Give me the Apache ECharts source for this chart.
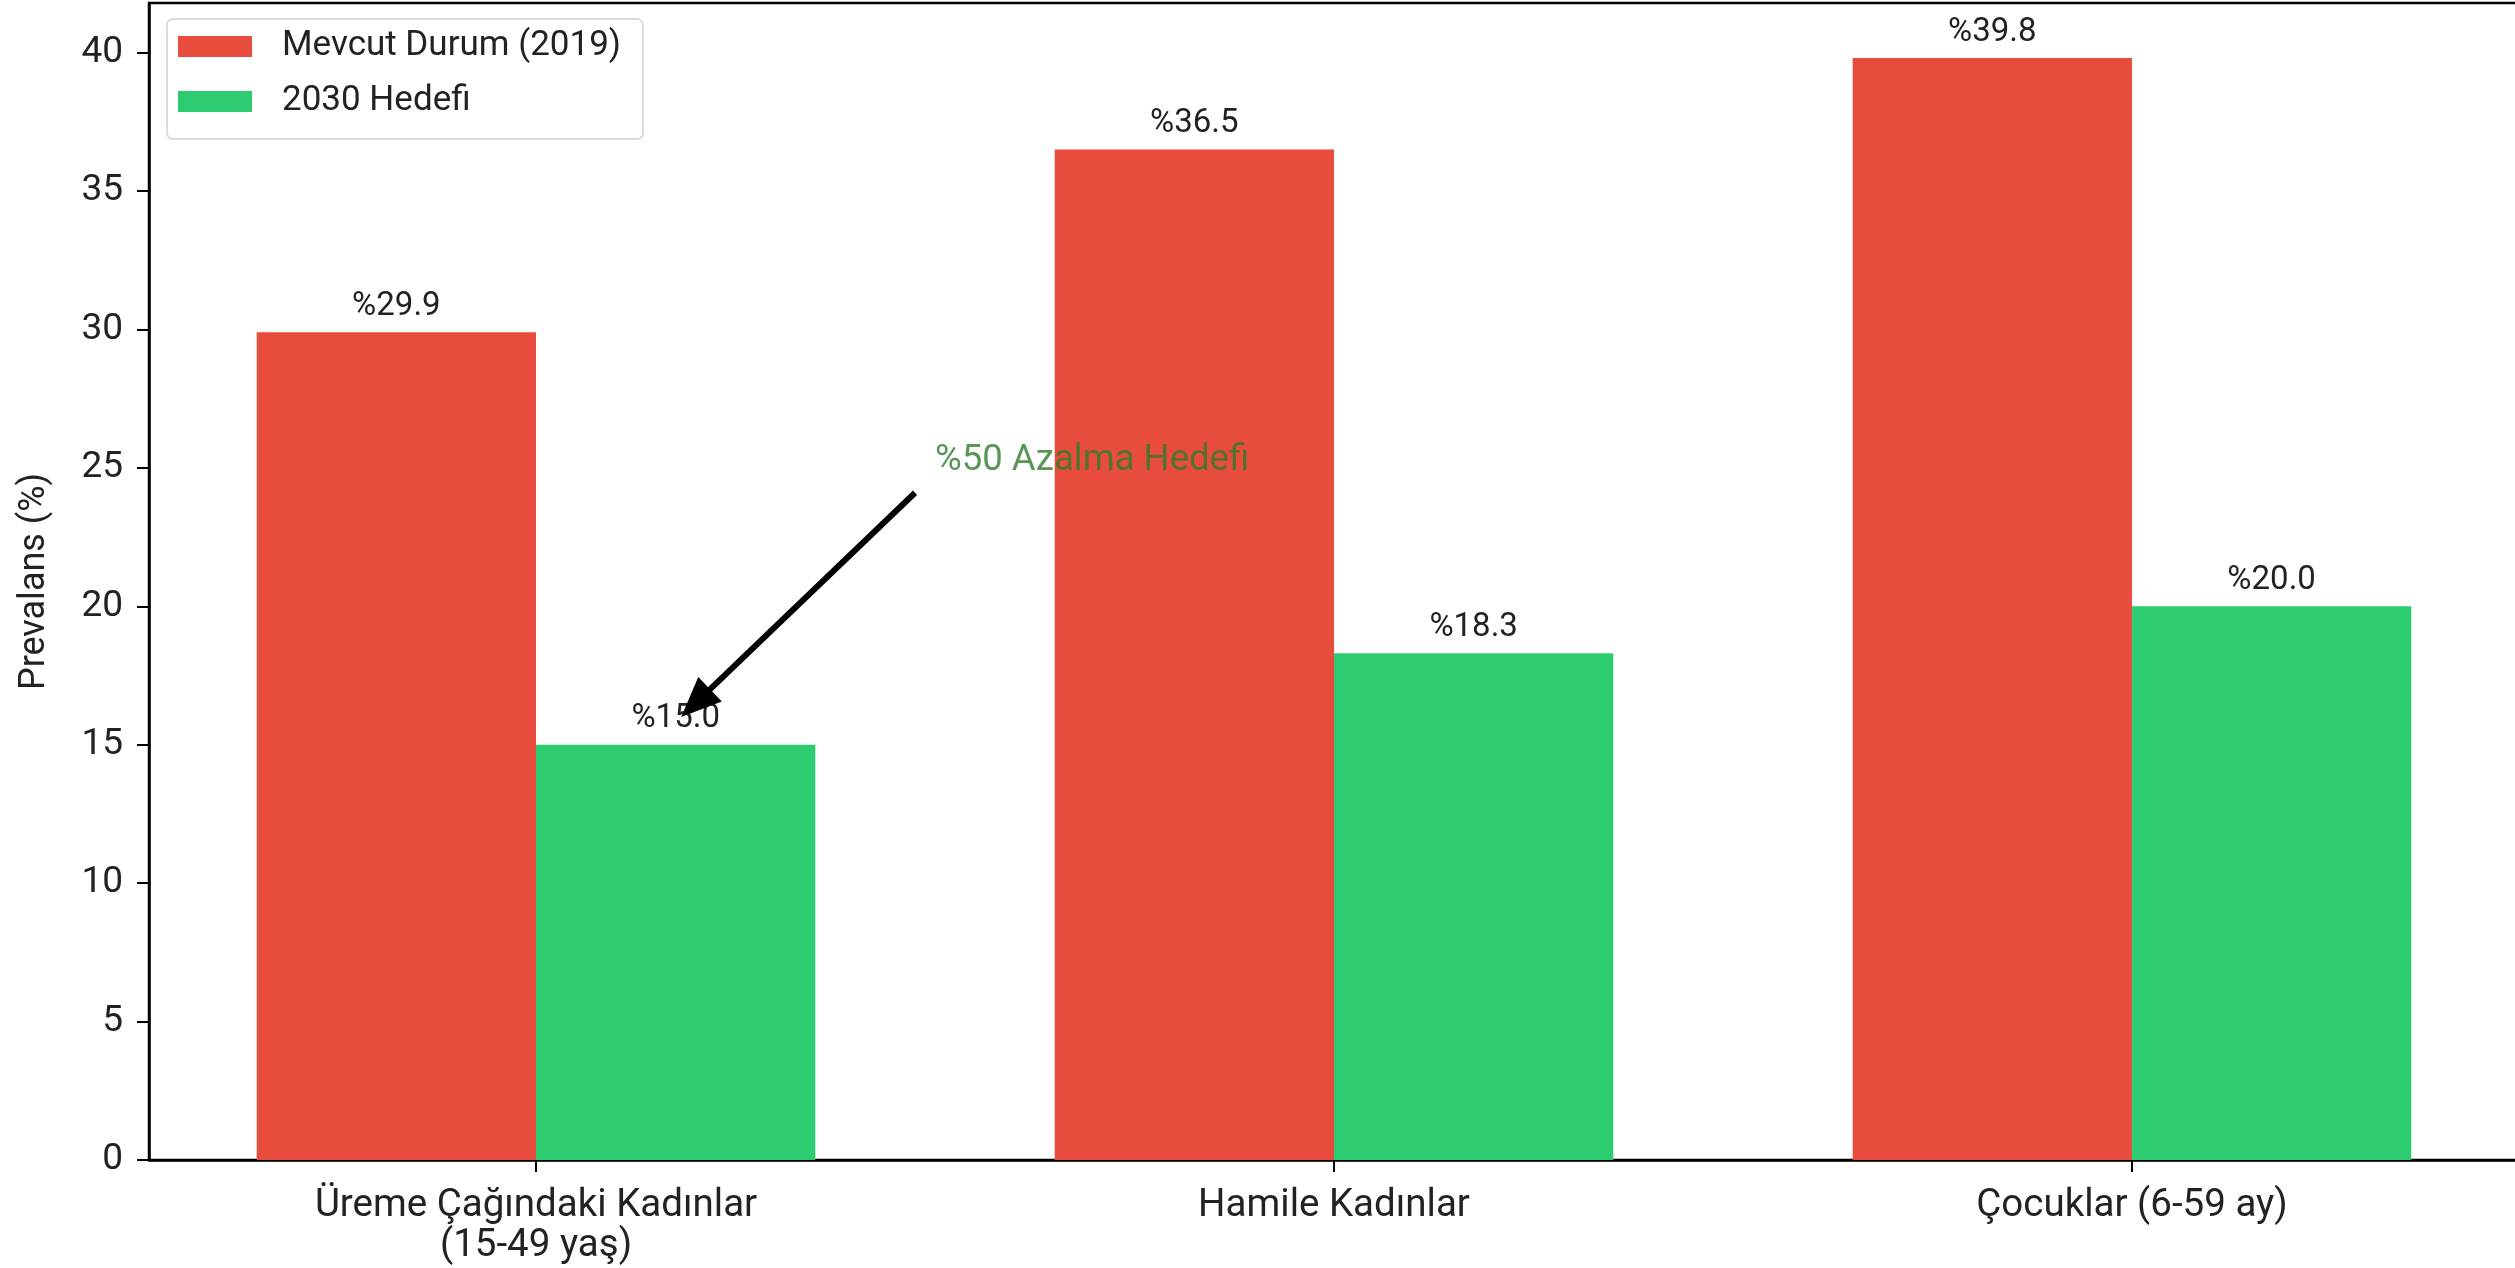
<!DOCTYPE html>
<html>
<head>
<meta charset="utf-8">
<title>Anemi Prevalansı: Mevcut Durum ve 2030 Hedefi</title>
<script src="https://cdn.jsdelivr.net/npm/echarts@6/dist/echarts.min.js"></script>
<style>
  html, body { margin: 0; padding: 0; background: #ffffff; }
  #chart { width: 2515px; height: 1268px; }
</style>
</head>
<body>
<div id="chart"></div>
<script>
// Groups on the horizontal axis
const categories = [
  'Üreme Çağındaki Kadınlar\n(15-49 yaş)',
  'Hamile Kadınlar',
  'Çocuklar (6-59 ay)'
];
const categoryPositions = [0, 1, 2];

// Prevalence values (%)
const seriesNames = ['Mevcut Durum (2019)', '2030 Hedefi'];
const current2019 = [29.9, 36.5, 39.8];
const target2030 = [15.0, 18.3, 20.0];

// Y axis ticks
const yTicks = [0, 5, 10, 15, 20, 25, 30, 35, 40];

// Annotation: text anchor and arrow (tail -> head) in data units
const noteText = '%50 Azalma Hedefi';
const noteAnchor = [0.5, 24.6];
const arrowTail = [0.475, 24.1];
const arrowHead = [0.2, 16.5];

const RED = '#e74c3c';
const GREEN = '#2ecc71';
const INK = '#222222';
const FONT = 'Roboto, "DejaVu Sans", sans-serif';

// Axis extent: bar group width plus a 5% margin on each side
const barSpan = 0.35;
const xMin = -(barSpan + 0.135);
const xMax = 2 + barSpan + 0.135;
const yMax = 39.8 * 1.05;

const chart = echarts.init(document.getElementById('chart'), null, { renderer: 'canvas' });

// Plot area runs slightly past the right edge of the canvas
const gridLeft = 149;
const gridWidth = 2370;
const unitPx = gridWidth / (xMax - xMin);
const barPx = barSpan * unitPx;

const valueLabel = {
  show: true,
  position: 'top',
  distance: 9,
  color: INK,
  fontFamily: FONT,
  fontSize: 33,
  formatter: p => '%' + p.value[1].toFixed(1)
};

chart.setOption({
  animation: false,
  backgroundColor: '#ffffff',
  textStyle: { fontFamily: FONT },
  grid: {
    left: gridLeft, width: gridWidth, top: 3, bottom: 108,
    outerBoundsMode: 'none',
    containLabel: false,
    show: true, borderColor: '#000', borderWidth: 2.5, backgroundColor: 'transparent'
  },
  legend: {
    orient: 'vertical',
    left: 167, top: 19,
    padding: [10, 22, 20, 11],
    itemGap: 20,
    itemWidth: 74, itemHeight: 21,
    icon: 'rect',
    backgroundColor: '#ffffff',
    borderColor: '#d0d0d0',
    borderWidth: 1.5,
    borderRadius: 6,
    data: seriesNames,
    textStyle: {
      color: INK, fontFamily: FONT, fontSize: 35, lineHeight: 28,
      padding: [0, 0, 0, 25]
    }
  },
  xAxis: {
    type: 'value',
    min: xMin, max: xMax,
    splitLine: { show: false },
    axisLine: { show: true, onZero: false, lineStyle: { color: '#000', width: 2.5 } },
    axisTick: { show: true, customValues: categoryPositions, length: 12, lineStyle: { color: '#000', width: 2 } },
    axisLabel: {
      show: true,
      customValues: categoryPositions,
      formatter: v => categories[Math.round(v)],
      margin: 26,
      color: INK, fontFamily: FONT, fontSize: 38.5, lineHeight: 40
    }
  },
  yAxis: {
    type: 'value',
    min: 0, max: yMax,
    name: 'Prevalans (%)',
    nameLocation: 'middle',
    nameGap: 96,
    nameTextStyle: { color: INK, fontFamily: FONT, fontSize: 36 },
    splitLine: { show: false },
    axisLine: { show: true, onZero: false, lineStyle: { color: '#000', width: 2.5 } },
    axisTick: { show: true, customValues: yTicks, length: 12, lineStyle: { color: '#000', width: 2 } },
    axisLabel: {
      show: true,
      customValues: yTicks,
      margin: 26,
      color: INK, fontFamily: FONT, fontSize: 37
    }
  },
  series: [
    {
      name: seriesNames[0],
      type: 'bar',
      barWidth: barPx,
      barGap: '0%',
      itemStyle: { color: RED },
      label: valueLabel,
      data: categoryPositions.map((x, i) => [x, current2019[i]])
    },
    {
      name: seriesNames[1],
      type: 'bar',
      barWidth: barPx,
      barGap: '0%',
      itemStyle: { color: GREEN },
      label: valueLabel,
      data: categoryPositions.map((x, i) => [x, target2030[i]])
    },
    {
      name: 'annotation',
      type: 'scatter',
      z: 10,
      symbolSize: 0,
      silent: true,
      label: {
        show: true,
        position: [0, 0],
        align: 'left',
        verticalAlign: 'bottom',
        color: '#2f7a2a',
        fontFamily: FONT,
        fontSize: 36.5,
        formatter: noteText
      },
      data: [noteAnchor],
      markLine: {
        silent: true,
        symbol: ['none', 'triangle'],
        symbolSize: [34, 40],
        label: { show: false },
        lineStyle: { color: '#000', width: 6, type: 'solid' },
        data: [[{ coord: arrowTail }, { coord: arrowHead }]]
      }
    }
  ]
});
</script>
</body>
</html>
